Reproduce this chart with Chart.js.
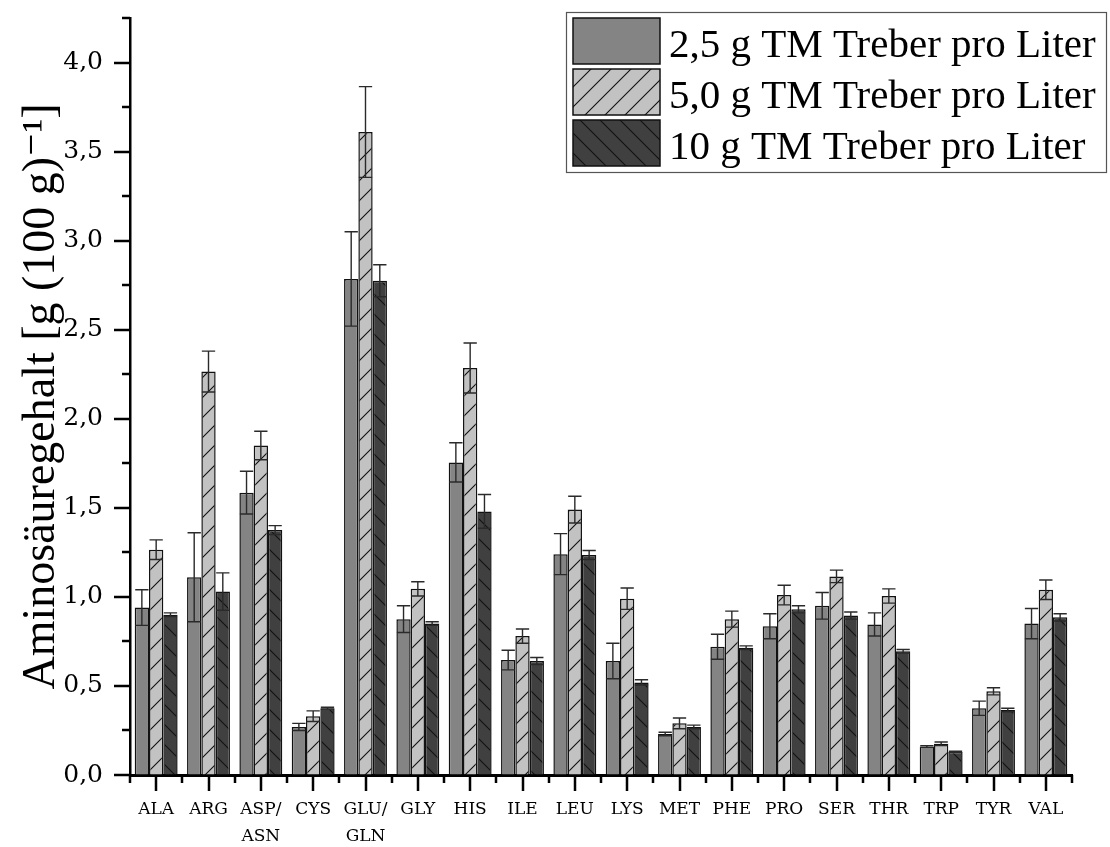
<!DOCTYPE html>
<html>
<head>
<meta charset="utf-8">
<script src="https://cdn.jsdelivr.net/npm/chart.js@4.4.1/dist/chart.umd.min.js"></script>
<style>
  html, body { margin: 0; padding: 0; background: #fff; }
  #wrap { width: 1110px; height: 847px; }
</style>
</head>
<body>
<div id="wrap"><canvas id="aminoChart"></canvas></div>
<script>
// Aminosäuren
const categories = ['ALA', 'ARG', ['ASP/', 'ASN'], 'CYS', ['GLU/', 'GLN'], 'GLY', 'HIS', 'ILE', 'LEU',
    'LYS', 'MET', 'PHE', 'PRO', 'SER', 'THR', 'TRP', 'TYR', 'VAL'];

const seriesNames = ['2,5 g TM Treber pro Liter', '5,0 g TM Treber pro Liter', '10 g TM Treber pro Liter'];

// Mittelwerte
const values25 = [0.94, 1.11, 1.585, 0.27, 2.785, 0.875, 1.755, 0.645, 1.24, 0.64, 0.23, 0.72, 0.835, 0.95, 0.845, 0.16, 0.375, 0.85];
const values50 = [1.265, 2.265, 1.85, 0.33, 3.61, 1.045, 2.285, 0.78, 1.49, 0.99, 0.29, 0.875, 1.01, 1.115, 1.005, 0.175, 0.47, 1.04];
const values10 = [0.90, 1.03, 1.375, 0.375, 2.775, 0.85, 1.48, 0.64, 1.235, 0.52, 0.27, 0.715, 0.93, 0.895, 0.695, 0.13, 0.365, 0.885];

// Standardabweichungen
const err25 = [0.10, 0.25, 0.12, 0.02, 0.265, 0.075, 0.11, 0.055, 0.115, 0.10, 0.01, 0.07, 0.07, 0.075, 0.065, 0.005, 0.04, 0.085];
const err50 = [0.055, 0.115, 0.08, 0.03, 0.255, 0.04, 0.14, 0.04, 0.075, 0.06, 0.03, 0.045, 0.055, 0.035, 0.04, 0.01, 0.02, 0.055];
const err10 = [0.01, 0.105, 0.025, 0.005, 0.09, 0.01, 0.095, 0.02, 0.025, 0.015, 0.01, 0.01, 0.02, 0.02, 0.01, 0.003, 0.01, 0.02];

const yTitle = 'Aminosäuregehalt [g (100 g)⁻¹]';

// hatch patterns
function makeHatch(bg, dir) {
    const size = 20;
    const c = document.createElement('canvas');
    c.width = size;
    c.height = size;
    const g = c.getContext('2d');
    g.fillStyle = bg;
    g.fillRect(0, 0, size, size);
    if (dir) {
        g.strokeStyle = '#111';
        g.lineWidth = 1.1;
        g.beginPath();
        if (dir === '/') {
            g.moveTo(-2, size + 2); g.lineTo(size + 2, -2);
            g.moveTo(-2, 2); g.lineTo(2, -2);
            g.moveTo(size - 2, size + 2); g.lineTo(size + 2, size - 2);
        } else {
            g.moveTo(-2, -2); g.lineTo(size + 2, size + 2);
            g.moveTo(size - 2, -2); g.lineTo(size + 2, 2);
            g.moveTo(-2, size - 2); g.lineTo(2, size + 2);
        }
        g.stroke();
    }
    return g.createPattern(c, 'repeat');
}

const fills = [makeHatch('#848484'), makeHatch('#c2c2c2', '/'), makeHatch('#404040', '\\')];

const serif = "'Liberation Serif', 'DejaVu Serif', serif";

// error bars, drawn through the scales
const errorBarPlugin = {
    id: 'errorBars',
    afterDatasetsDraw(chart) {
        const ctx = chart.ctx;
        const y = chart.scales.y;
        ctx.save();
        ctx.strokeStyle = '#2a2a2a';
        ctx.lineWidth = 1.4;
        chart.data.datasets.forEach((ds, di) => {
            const meta = chart.getDatasetMeta(di);
            meta.data.forEach((bar, i) => {
                const v = ds.data[i];
                const e = ds.errors[i];
                const yTop = y.getPixelForValue(v + e);
                const yBot = y.getPixelForValue(v - e);
                const half = bar.width / 2 - 0.5;
                ctx.beginPath();
                ctx.moveTo(bar.x, yTop); ctx.lineTo(bar.x, yBot);
                ctx.moveTo(bar.x - half, yTop); ctx.lineTo(bar.x + half, yTop);
                ctx.moveTo(bar.x - half, yBot); ctx.lineTo(bar.x + half, yBot);
                ctx.stroke();
            });
        });
        ctx.restore();
    }
};

// outward ticks, major and minor
const axisTicksPlugin = {
    id: 'axisTicks',
    afterDraw(chart) {
        const ctx = chart.ctx;
        const x = chart.scales.x;
        const y = chart.scales.y;
        const area = chart.chartArea;
        ctx.save();
        ctx.strokeStyle = '#000';
        ctx.lineWidth = 2.5;
        ctx.beginPath();
        for (let v = 0; v <= y.max + 1e-9; v += 0.25) {
            const py = Math.round(y.getPixelForValue(v));
            const major = Math.abs(v * 2 - Math.round(v * 2)) < 1e-9;
            ctx.moveTo(area.left, py);
            ctx.lineTo(area.left - (major ? 16 : 8), py);
        }
        const n = categories.length;
        const step = (area.right - area.left) / n;
        for (let i = 0; i < n; i++) {
            const px = Math.round(x.getPixelForValue(i));
            ctx.moveTo(px, area.bottom);
            ctx.lineTo(px, area.bottom + 16);
        }
        for (let i = 0; i <= n; i++) {
            const px = Math.round(area.left + i * step);
            ctx.moveTo(px, area.bottom);
            ctx.lineTo(px, area.bottom + 8);
        }
        ctx.stroke();
        ctx.restore();
    }
};

// legend box in the upper right corner
const legendBoxPlugin = {
    id: 'legendBox',
    afterDraw(chart) {
        const ctx = chart.ctx;
        ctx.save();
        ctx.strokeStyle = '#555';
        ctx.lineWidth = 1.2;
        ctx.strokeRect(566.5, 12.5, 540, 160);
        ctx.font = '41px ' + serif;
        ctx.textBaseline = 'middle';
        chart.data.datasets.forEach((ds, i) => {
            const top = 18 + i * 51;
            ctx.fillStyle = ds.backgroundColor;
            ctx.fillRect(573, top, 87, 46);
            ctx.strokeStyle = '#111';
            ctx.lineWidth = 1.5;
            ctx.strokeRect(573, top, 87, 46);
            ctx.fillStyle = '#000';
            ctx.fillText(ds.label, 669, top + 28);
        });
        ctx.restore();
    }
};

const aminoCtx = document.getElementById('aminoChart');
const datasets = [values25, values50, values10].map((vals, i) => ({
    label: seriesNames[i],
    data: vals,
    errors: [err25, err50, err10][i],
    backgroundColor: fills[i],
    borderColor: '#111',
    borderWidth: 1.5,
    borderSkipped: 'bottom',
    categoryPercentage: 0.82,
    barPercentage: 1.0
}));

new Chart(aminoCtx, {
    type: 'bar',
    data: { labels: categories, datasets: datasets },
    options: {
        responsive: true,
        maintainAspectRatio: false,
        animation: false,
        layout: { padding: { top: 18, right: 38, left: 0, bottom: 0 } },
        scales: {
            x: {
                grid: { drawOnChartArea: false, drawTicks: false },
                border: { display: true, color: '#000', width: 3 },
                ticks: {
                    color: '#000',
                    padding: 21,
                    maxRotation: 0,
                    autoSkip: false,
                    font: { family: "'DejaVu Serif', serif", size: 17, lineHeight: 1.6 }
                },
                afterFit(scale) {
                    scale.height = 72;
                    scale.paddingLeft = 0;
                    scale.paddingRight = 0;
                }
            },
            y: {
                min: 0,
                max: 4.25,
                grid: { drawOnChartArea: false, drawTicks: false },
                border: { display: true, color: '#000', width: 2.5 },
                ticks: {
                    stepSize: 0.5,
                    color: '#000',
                    padding: 27,
                    font: { family: "'DejaVu Serif', serif", size: 25 },
                    callback: (v) => Number(v).toFixed(1).replace('.', ',')
                },
                afterBuildTicks(scale) {
                    scale.ticks = scale.ticks.filter(t => Math.abs(t.value * 2 - Math.round(t.value * 2)) < 1e-9);
                },
                title: {
                    display: true,
                    text: yTitle,
                    color: '#000',
                    font: { family: serif, size: 46, lineHeight: 1.2 },
                    padding: { top: 14, bottom: 0 }
                },
                afterFit(scale) {
                    scale.width = 130;
                    scale.paddingTop = 0;
                    scale.paddingBottom = 0;
                }
            }
        },
        plugins: {
            legend: { display: false },
            tooltip: { enabled: false }
        }
    },
    plugins: [errorBarPlugin, axisTicksPlugin, legendBoxPlugin]
});
</script>
</body>
</html>
